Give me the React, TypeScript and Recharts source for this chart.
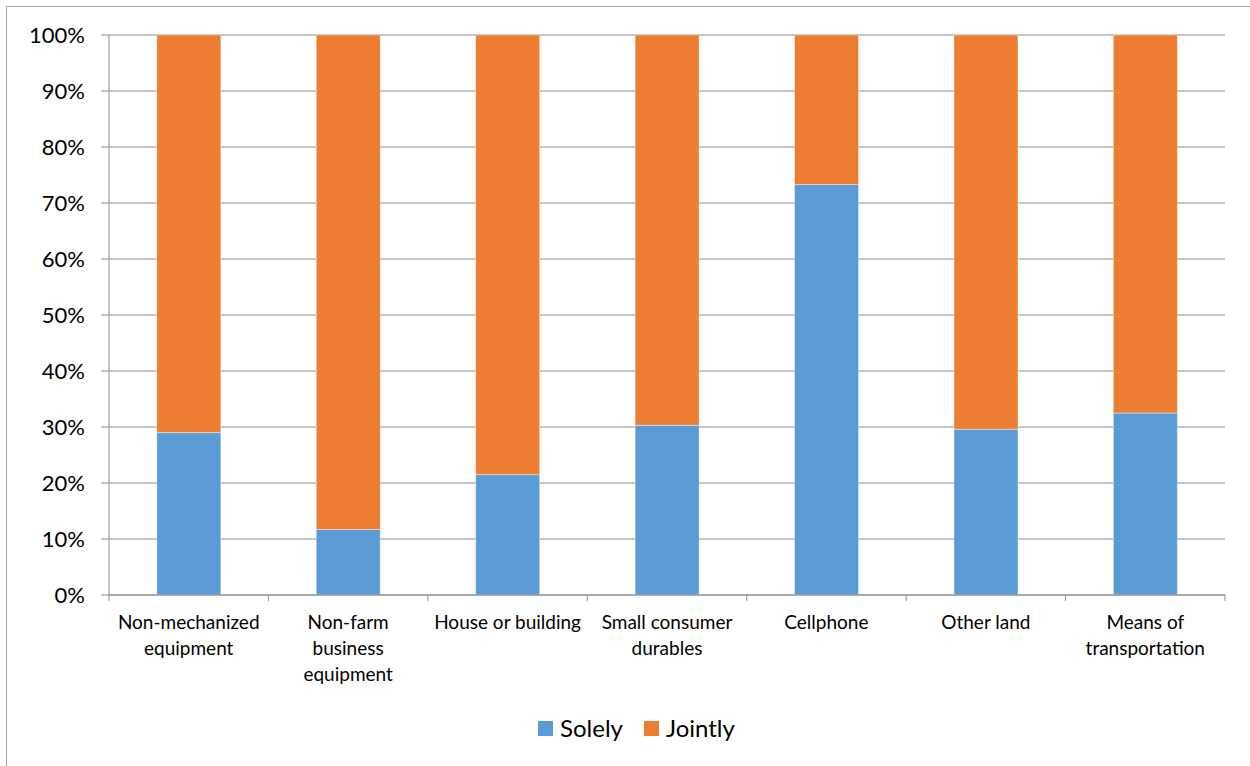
import React from "react";
import { BarChart, Bar, XAxis, YAxis, CartesianGrid } from "recharts";

// Asset categories, with the line breaks used for their axis labels
const categories = [
  "Non-mechanized equipment",
  "Non-farm business equipment",
  "House or building",
  "Small consumer durables",
  "Cellphone",
  "Other land",
  "Means of transportation",
];
const categoryLines = [
  ["Non-mechanized", "equipment"],
  ["Non-farm", "business", "equipment"],
  ["House or building"],
  ["Small consumer", "durables"],
  ["Cellphone"],
  ["Other land"],
  ["Means of", "transportation"],
];

// Share of ownership (%)
const solely = [29.0, 11.7, 21.5, 30.3, 73.3, 29.6, 32.5];
const jointly = [71.0, 88.3, 78.5, 69.7, 26.7, 70.4, 67.5];

const yTicks = [0, 10, 20, 30, 40, 50, 60, 70, 80, 90, 100];

const seriesNames = ["Solely", "Jointly"];
const seriesColors = ["#5B9BD5", "#ED7D31"];

const data = categories.map((name, i) => ({
  name,
  solely: solely[i],
  jointly: jointly[i],
}));

const WIDTH = 1250;
const HEIGHT = 766;
const MARGIN = { top: 35, right: 25, bottom: 71, left: 0 };
const Y_AXIS_WIDTH = 109;
const X_AXIS_HEIGHT = 100;
const PLOT_LEFT = MARGIN.left + Y_AXIS_WIDTH;
const PLOT_RIGHT = WIDTH - MARGIN.right;
const PLOT_BOTTOM = HEIGHT - MARGIN.bottom - X_AXIS_HEIGHT;
const BAND = (PLOT_RIGHT - PLOT_LEFT) / categories.length;

const AXIS_COLOR = "#8c8c8c";
const FONT = "Lato, 'Open Sans', sans-serif";

const XTick = (props: any) => {
  const { x, payload, index } = props;
  const idx = payload.index ?? index;
  const lines = categoryLines[idx] || [String(payload.value)];
  const left = x - BAND / 2;
  const right = x + BAND / 2;
  const isLast = idx === categories.length - 1;
  return (
    <g>
      <line x1={left} x2={left} y1={PLOT_BOTTOM} y2={PLOT_BOTTOM + 6} stroke={AXIS_COLOR} />
      {isLast && (
        <line x1={right} x2={right} y1={PLOT_BOTTOM} y2={PLOT_BOTTOM + 6} stroke={AXIS_COLOR} />
      )}
      <text
        x={x}
        y={PLOT_BOTTOM + 34}
        textAnchor="middle"
        fontSize={19}
        fontFamily={FONT}
        fill="#000"
      >
        {lines.map((ln: string, i: number) => (
          <tspan key={i} x={x} dy={i === 0 ? 0 : 26}>
            {ln}
          </tspan>
        ))}
      </text>
    </g>
  );
};

const ChartLegend = () => (
  <div
    style={{
      position: "absolute",
      top: 714,
      left: 538,
      display: "flex",
      alignItems: "center",
      fontFamily: FONT,
      fontSize: 24,
      lineHeight: "28px",
      color: "#000",
    }}
  >
    {seriesNames.map((n, i) => (
      <div key={n} style={{ display: "flex", alignItems: "center", marginRight: 21 }}>
        <span
          style={{
            display: "inline-block",
            width: 15,
            height: 15,
            background: seriesColors[i],
            marginRight: 7,
          }}
        />
        <span>{n}</span>
      </div>
    ))}
  </div>
);

export default function App() {
  return (
    <div
      style={{
        position: "absolute",
        left: 0,
        top: 0,
        width: WIDTH,
        height: HEIGHT,
        overflow: "hidden",
        background: "#fff",
      }}
    >
      <div
        style={{
          position: "absolute",
          left: 6,
          top: 6,
          width: WIDTH + 20,
          height: HEIGHT + 20,
          border: "1px solid #a6a6a6",
        }}
      />
      <BarChart
        width={WIDTH}
        height={HEIGHT}
        data={data}
        margin={MARGIN}
        barCategoryGap="30%"
      >
        <CartesianGrid vertical={false} stroke={AXIS_COLOR} />
        <XAxis
          dataKey="name"
          height={X_AXIS_HEIGHT}
          interval={0}
          tickLine={false}
          axisLine={{ stroke: AXIS_COLOR }}
          tick={<XTick />}
        />
        <YAxis
          domain={[0, 100]}
          ticks={yTicks}
          width={Y_AXIS_WIDTH}
          tickSize={8}
          tickMargin={16}
          interval={0}
          tickLine={{ stroke: AXIS_COLOR }}
          axisLine={{ stroke: AXIS_COLOR }}
          tickFormatter={(v: number) => `${v}%`}
          tick={{ fontSize: 22, fill: "#000", fontFamily: FONT }}
        />
        <Bar
          dataKey="solely"
          name={seriesNames[0]}
          stackId="a"
          fill={seriesColors[0]}
          stroke="#ffffff"
          strokeOpacity={0.4}
          isAnimationActive={false}
        />
        <Bar
          dataKey="jointly"
          name={seriesNames[1]}
          stackId="a"
          fill={seriesColors[1]}
          stroke="#ffffff"
          strokeOpacity={0.4}
          isAnimationActive={false}
        />
      </BarChart>
      <ChartLegend />
    </div>
  );
}
